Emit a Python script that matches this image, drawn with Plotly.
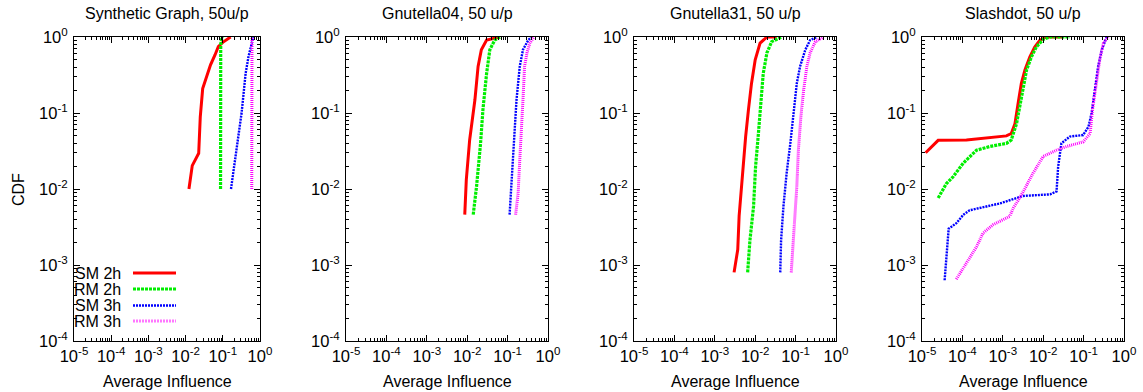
import plotly.graph_objects as go

W, H = 1143, 392

# ---------------- data ----------------
series_names = ["SM 2h", "RM 2h", "SM 3h", "RM 3h"]
panel_titles = ["Synthetic Graph, 50u/p", "Gnutella04, 50 u/p", "Gnutella31, 50 u/p", "Slashdot, 50 u/p"]
x_tick_vals = [1e-5, 1e-4, 1e-3, 1e-2, 1e-1, 1]
x_tick_text = ["10<sup>-5</sup>", "10<sup>-4</sup>", "10<sup>-3</sup>", "10<sup>-2</sup>", "10<sup>-1</sup>", "10<sup>0</sup>"]
y_tick_vals = [1e-4, 1e-3, 1e-2, 1e-1, 1]
y_tick_text = ["10<sup>-4</sup>", "10<sup>-3</sup>", "10<sup>-2</sup>", "10<sup>-1</sup>", "10<sup>0</sup>"]

# Synthetic Graph
syn_sm2h_x = [0.0123, 0.0151, 0.0225, 0.0248, 0.0288, 0.0372, 0.0468, 0.0617, 0.0759, 0.1, 0.127, 0.162]
syn_sm2h_y = [0.01, 0.0203, 0.0295, 0.089, 0.21, 0.30, 0.43, 0.58, 0.75, 0.85, 0.91, 1.0]
syn_rm2h_x = [0.087, 0.087, 0.088, 0.092, 0.1]
syn_rm2h_y = [0.01, 0.3, 0.8, 0.93, 1.0]
syn_sm3h_x = [0.166, 0.19, 0.245, 0.32, 0.41, 0.49, 0.66]
syn_sm3h_y = [0.01, 0.016, 0.04, 0.1, 0.33, 0.55, 1.0]
syn_rm3h_x = [0.6, 0.6, 0.61]
syn_rm3h_y = [0.01, 0.8, 1.0]

# Gnutella04
g04_sm2h_x = [0.0087, 0.0095, 0.0115, 0.0155, 0.0186, 0.0224, 0.0302, 0.0646]
g04_sm2h_y = [0.0046, 0.0132, 0.0442, 0.148, 0.41, 0.68, 0.91, 1.0]
g04_rm2h_x = [0.0141, 0.017, 0.0214, 0.0245, 0.0302, 0.0363, 0.0479, 0.0646]
g04_rm2h_y = [0.0046, 0.0107, 0.0398, 0.11, 0.33, 0.68, 0.91, 1.0]
g04_sm3h_x = [0.112, 0.123, 0.141, 0.166, 0.2, 0.24, 0.324, 0.389]
g04_sm3h_y = [0.0046, 0.0107, 0.0398, 0.148, 0.41, 0.68, 0.91, 1.0]
g04_rm3h_x = [0.158, 0.182, 0.2, 0.219, 0.24, 0.263, 0.302, 0.355, 0.447]
g04_rm3h_y = [0.0046, 0.0087, 0.024, 0.0537, 0.148, 0.41, 0.62, 0.83, 1.0]

# Gnutella31
g31_sm2h_x = [0.0030, 0.0037, 0.0040, 0.0044, 0.0051, 0.0058, 0.0068, 0.0081, 0.01, 0.0132, 0.0195, 0.0339]
g31_sm2h_y = [0.0008, 0.0016, 0.0044, 0.0087, 0.024, 0.049, 0.11, 0.245, 0.5, 0.83, 1.0, 1.0]
g31_rm2h_x = [0.0065, 0.0074, 0.0091, 0.0102, 0.012, 0.0138, 0.0158, 0.0195, 0.0257, 0.0457]
g31_rm2h_y = [0.0008, 0.0021, 0.0059, 0.0195, 0.0537, 0.148, 0.33, 0.62, 0.87, 1.0]
g31_sm3h_x = [0.0417, 0.0437, 0.05, 0.06, 0.074, 0.089, 0.107, 0.129, 0.174, 0.229, 0.339]
g31_sm3h_y = [0.0008, 0.0021, 0.0059, 0.0162, 0.0398, 0.11, 0.245, 0.41, 0.68, 0.91, 1.0]
g31_rm3h_x = [0.078, 0.085, 0.098, 0.107, 0.117, 0.135, 0.158, 0.19, 0.229, 0.309, 0.49]
g31_rm3h_y = [0.0008, 0.0016, 0.0044, 0.0107, 0.032, 0.089, 0.2, 0.41, 0.62, 0.87, 1.0]

# Slashdot
sla_sm2h_x = [1.23e-5, 2.51e-5, 1.26e-4, 1.23e-3, 1.62e-3, 2.0e-3, 2.4e-3, 2.88e-3, 3.55e-3, 4.68e-3, 6.17e-3, 8.3e-3, 0.012, 0.0316]
sla_sm2h_y = [0.030, 0.0437, 0.0442, 0.05, 0.0537, 0.0724, 0.135, 0.245, 0.37, 0.55, 0.74, 0.91, 1.0, 1.0]
sla_rm2h_x = [2.51e-5, 3.98e-5, 5.89e-5, 1.05e-4, 2.24e-4, 4.79e-4, 1.23e-3, 1.62e-3, 2.19e-3, 2.63e-3, 3.16e-3, 3.89e-3, 5.13e-3, 6.76e-3, 0.01, 0.0148, 0.0457]
sla_rm2h_y = [0.0076, 0.0117, 0.0145, 0.0219, 0.0324, 0.0363, 0.0398, 0.0442, 0.0724, 0.12, 0.224, 0.37, 0.55, 0.74, 0.93, 1.0, 1.0]
sla_sm3h_x = [3.63e-5, 3.98e-5, 4.57e-5, 7.08e-5, 1.05e-4, 1.51e-4, 8.5e-4, 3.16e-3, 0.0148, 0.0214, 0.0234, 0.0282, 0.0457, 0.0977, 0.132, 0.158, 0.19, 0.229, 0.282, 0.372]
sla_sm3h_y = [0.00063, 0.00129, 0.003, 0.00355, 0.00457, 0.00525, 0.00646, 0.0081, 0.0085, 0.0093, 0.0195, 0.0398, 0.049, 0.0513, 0.066, 0.1, 0.2, 0.41, 0.68, 1.0]
sla_rm3h_x = [7.08e-5, 1.15e-4, 2.24e-4, 3.24e-4, 5.75e-4, 1.48e-3, 1.82e-3, 2.4e-3, 3.16e-3, 5.62e-3, 0.01, 0.0214, 0.038, 0.0977, 0.145, 0.166, 0.204, 0.251, 0.309, 0.407]
sla_rm3h_y = [0.00065, 0.001, 0.00174, 0.00263, 0.00339, 0.00437, 0.00562, 0.00708, 0.0091, 0.0162, 0.0269, 0.0324, 0.0363, 0.0417, 0.0537, 0.11, 0.245, 0.5, 0.83, 1.0]

panels = [
    [(syn_sm2h_x, syn_sm2h_y), (syn_rm2h_x, syn_rm2h_y), (syn_sm3h_x, syn_sm3h_y), (syn_rm3h_x, syn_rm3h_y)],
    [(g04_sm2h_x, g04_sm2h_y), (g04_rm2h_x, g04_rm2h_y), (g04_sm3h_x, g04_sm3h_y), (g04_rm3h_x, g04_rm3h_y)],
    [(g31_sm2h_x, g31_sm2h_y), (g31_rm2h_x, g31_rm2h_y), (g31_sm3h_x, g31_sm3h_y), (g31_rm3h_x, g31_rm3h_y)],
    [(sla_sm2h_x, sla_sm2h_y), (sla_rm2h_x, sla_rm2h_y), (sla_sm3h_x, sla_sm3h_y), (sla_rm3h_x, sla_rm3h_y)],
]

# ---------------- style ----------------
FONT = "Liberation Sans, Arial, Helvetica, sans-serif"
FS = 16
TFS = 16.5
styles = [
    dict(color="#ff0000", width=3, dash="solid"),
    dict(color="#00ee00", width=3.2, dash="3px,1px"),
    dict(color="#0000ff", width=2.4, dash="2px,1px"),
    dict(color="#ff00ff", width=3, dash="1px,1px"),
]
legend_dash = ["solid", "3px,1px", "2px,1px", "2px,1px"]
legend_color = ["#ff0000", "#00ee00", "#0000ff", "#ff77ff"]

panel_px = [(74, 260), (346, 548), (634, 836), (922, 1124)]
top_px, bot_px = 37, 341


def px_x(p):
    return p / W


def px_y(p):
    return 1 - p / H


minor_vals_x = [k * 10.0 ** d for d in range(-5, 0) for k in range(2, 10)]
minor_vals_y = [k * 10.0 ** d for d in range(-4, 0) for k in range(2, 10)]

fig = go.Figure()
layout = dict(
    width=W, height=H,
    margin=dict(l=0, r=0, t=0, b=0, autoexpand=False),
    paper_bgcolor="white", plot_bgcolor="white",
    showlegend=False,
    font=dict(family=FONT, size=FS, color="black"),
)

annotations = []
shapes = []
for i, (x0, x1) in enumerate(panel_px):
    n = "" if i == 0 else str(i + 1)
    xa = "xaxis" + n
    ya = "yaxis" + n
    layout[xa] = dict(
        type="log", range=[-5, 0], domain=[px_x(x0), px_x(x1)], anchor="y" + n,
        automargin=False,
        showgrid=False, zeroline=False, showline=True, linecolor="black", linewidth=1,
        mirror="ticks", ticks="inside", ticklen=6, tickcolor="black",
        tickmode="array", tickvals=x_tick_vals, ticktext=x_tick_text,
        tickfont=dict(family=FONT, size=TFS),
        minor=dict(ticks="inside", ticklen=3, tickcolor="black", tickmode="array", tickvals=minor_vals_x, showgrid=False),
    )
    layout[ya] = dict(
        type="log", range=[-4, 0], domain=[px_y(bot_px), px_y(top_px)], anchor="x" + n,
        automargin=False,
        showgrid=False, zeroline=False, showline=True, linecolor="black", linewidth=1,
        mirror="ticks", ticks="inside", ticklen=6, tickcolor="black",
        tickmode="array", tickvals=y_tick_vals, ticktext=y_tick_text,
        tickfont=dict(family=FONT, size=TFS), ticklabelstandoff=2,
        minor=dict(ticks="inside", ticklen=3, tickcolor="black", tickmode="array", tickvals=minor_vals_y, showgrid=False),
    )
    for s, (xs, ys) in enumerate(panels[i]):
        fig.add_trace(go.Scatter(
            x=xs, y=ys, mode="lines", name=series_names[s],
            line=dict(color=styles[s]["color"], width=styles[s]["width"], dash=styles[s]["dash"]),
            xaxis="x" + n, yaxis="y" + n, hoverinfo="skip",
        ))
    cx = (x0 + x1) / 2
    annotations.append(dict(text=panel_titles[i], x=px_x(cx), y=px_y(14), xref="paper", yref="paper",
                            xanchor="center", yanchor="middle", showarrow=False, font=dict(size=FS)))
    annotations.append(dict(text="Average Influence", x=px_x(cx), y=px_y(381), xref="paper", yref="paper",
                            xanchor="center", yanchor="middle", showarrow=False, font=dict(size=FS)))

annotations.append(dict(text="CDF", x=px_x(19), y=px_y(190), xref="paper", yref="paper", textangle=-90,
                        xanchor="center", yanchor="middle", showarrow=False, font=dict(size=FS)))

# legend (text left, sample right) inside first panel
leg_y = [273, 289, 305.5, 321]
for s, name in enumerate(series_names):
    annotations.append(dict(text=name, x=px_x(123), y=px_y(leg_y[s]), xref="paper", yref="paper",
                            xanchor="right", yanchor="middle", showarrow=False, font=dict(size=FS)))
    shapes.append(dict(type="line", xref="paper", yref="paper",
                       x0=px_x(133), x1=px_x(176), y0=px_y(leg_y[s]), y1=px_y(leg_y[s]),
                       line=dict(color=legend_color[s], width=styles[s]["width"], dash=legend_dash[s])))

layout["annotations"] = annotations
layout["shapes"] = shapes
fig.update_layout(**layout)
fig.write_html("out.html", config={"displayModeBar": False},
               post_script="document.body.style.margin='0px';document.body.style.overflow='hidden';")
